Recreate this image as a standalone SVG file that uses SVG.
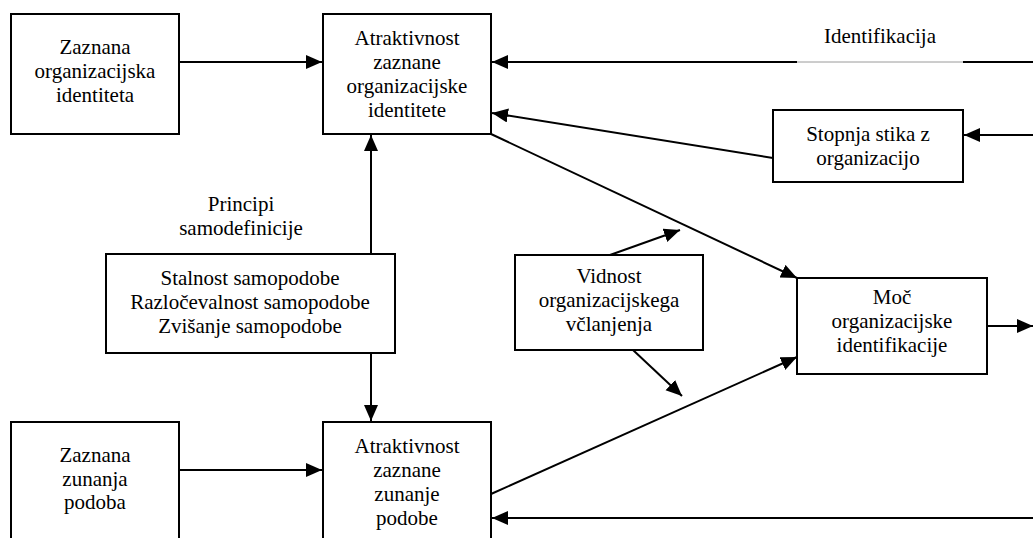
<svg xmlns="http://www.w3.org/2000/svg" width="1033" height="538" viewBox="0 0 1033 538" font-family="Liberation Serif, DejaVu Serif, serif">
  <style>
    .box { fill: #ffffff; stroke: #000000; stroke-width: 2; }
    .lbl { font-size: 21px; fill: #000000; text-anchor: middle; }
    .edge { fill: none; stroke: #000000; stroke-width: 2; }
    .arr { marker-end: url(#head); }
    .faint { fill: none; stroke: #9a9a9a; stroke-width: 1; }
  </style>
  <defs>
    <marker id="head" markerUnits="userSpaceOnUse" markerWidth="17" markerHeight="15" refX="16" refY="7" orient="auto">
      <path d="M0,0 L16,7 L0,14 z" fill="#000000"/>
    </marker>
  </defs>
  <rect width="1033" height="538" fill="#ffffff"/>

  <g id="connectors">
    <!-- perceived identity -> attractiveness of identity -->
    <line class="edge arr" x1="179" y1="62" x2="322" y2="62"/>
    <!-- Identifikacija feedback line (broken where the label sits) -->
    <line class="edge" x1="1033" y1="62" x2="963" y2="62"/>
    <line class="faint" x1="963" y1="62" x2="797" y2="62"/>
    <line class="edge arr" x1="797" y1="62" x2="492" y2="62"/>
    <!-- contact degree -> attractiveness of identity -->
    <line class="edge arr" x1="773" y1="158" x2="492" y2="113"/>
    <!-- into contact degree from right -->
    <line class="edge arr" x1="1033" y1="135" x2="964" y2="135"/>
    <!-- attractiveness of identity -> strength of identification -->
    <line class="edge arr" x1="491" y1="134" x2="797" y2="278"/>
    <!-- self-definition principles up and down -->
    <line class="edge arr" x1="371" y1="254" x2="371" y2="135"/>
    <line class="edge arr" x1="371" y1="353" x2="371" y2="421"/>
    <!-- visibility moderators -->
    <line class="edge arr" x1="610" y1="255" x2="680" y2="230"/>
    <line class="edge arr" x1="633" y1="350" x2="682" y2="396"/>
    <!-- attractiveness of external image -> strength of identification -->
    <line class="edge arr" x1="491" y1="494" x2="797" y2="357"/>
    <!-- strength of identification -> out -->
    <line class="edge arr" x1="987" y1="326" x2="1033" y2="326"/>
    <!-- perceived external image -> attractiveness of external image -->
    <line class="edge arr" x1="179" y1="470" x2="322" y2="470"/>
    <!-- feedback from right into external image attractiveness -->
    <line class="edge arr" x1="1033" y1="518" x2="492" y2="518"/>
  </g>

  <text class="lbl" x="880" y="43">Identifikacija</text>
  <text class="lbl" x="241" y="211">Principi</text>
  <text class="lbl" x="241" y="235">samodefinicije</text>

  <g id="perceived-identity">
    <rect class="box" x="11" y="14" width="168" height="120"/>
    <text class="lbl" x="95" y="54">Zaznana</text>
    <text class="lbl" x="95" y="78">organizacijska</text>
    <text class="lbl" x="95" y="102">identiteta</text>
  </g>

  <g id="identity-attractiveness">
    <rect class="box" x="323" y="14" width="168" height="120"/>
    <text class="lbl" x="407" y="45">Atraktivnost</text>
    <text class="lbl" x="407" y="69">zaznane</text>
    <text class="lbl" x="407" y="93">organizacijske</text>
    <text class="lbl" x="407" y="117">identitete</text>
  </g>

  <g id="contact-degree">
    <rect class="box" x="773" y="110" width="190" height="72"/>
    <text class="lbl" x="868" y="141">Stopnja stika z</text>
    <text class="lbl" x="868" y="165">organizacijo</text>
  </g>

  <g id="self-definition">
    <rect class="box" x="106" y="254" width="289" height="99"/>
    <text class="lbl" x="250" y="285">Stalnost samopodobe</text>
    <text class="lbl" x="250" y="309">Razločevalnost samopodobe</text>
    <text class="lbl" x="250" y="333">Zvišanje samopodobe</text>
  </g>

  <g id="membership-visibility">
    <rect class="box" x="515" y="255" width="188" height="95"/>
    <text class="lbl" x="609" y="283">Vidnost</text>
    <text class="lbl" x="609" y="307">organizacijskega</text>
    <text class="lbl" x="609" y="331">včlanjenja</text>
  </g>

  <g id="identification-strength">
    <rect class="box" x="797" y="278" width="190" height="96"/>
    <text class="lbl" x="892" y="304">Moč</text>
    <text class="lbl" x="892" y="328">organizacijske</text>
    <text class="lbl" x="892" y="352">identifikacije</text>
  </g>

  <g id="perceived-image">
    <rect class="box" x="11" y="422" width="168" height="130"/>
    <text class="lbl" x="95" y="462">Zaznana</text>
    <text class="lbl" x="95" y="486">zunanja</text>
    <text class="lbl" x="95" y="509">podoba</text>
  </g>

  <g id="image-attractiveness">
    <rect class="box" x="323" y="422" width="168" height="130"/>
    <text class="lbl" x="407" y="453">Atraktivnost</text>
    <text class="lbl" x="407" y="477">zaznane</text>
    <text class="lbl" x="407" y="501">zunanje</text>
    <text class="lbl" x="407" y="525">podobe</text>
  </g>
</svg>
